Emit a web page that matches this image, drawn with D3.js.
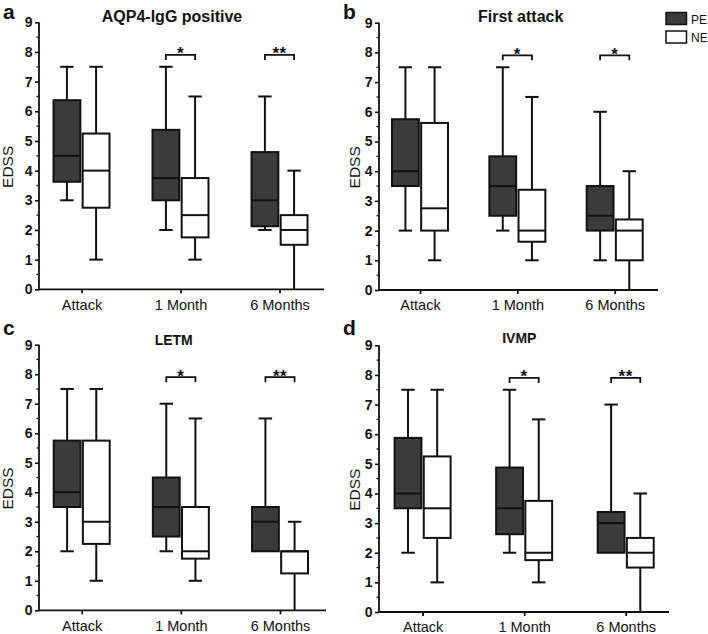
<!DOCTYPE html>
<html><head><meta charset="utf-8">
<script src="https://cdn.jsdelivr.net/npm/d3@7"></script>
<style>body{margin:0;background:#fff}svg{display:block}text{font-family:"Liberation Sans",Arial,sans-serif;fill:#111}</style>
</head><body><svg id="c" width="708" height="634"></svg>
<script>
// ---------------- data ----------------
const categories = ["Attack", "1 Month", "6 Months"];
const series = ["PE", "NE"];
const yTicks = [0, 1, 2, 3, 4, 5, 6, 7, 8, 9];
const panelLetters = ["a", "b", "c", "d"];
const panelTitles = ["AQP4-IgG positive", "First attack", "LETM", "IVMP"];
// each box: [min, q1, median, q3, max]
const aqp4PE  = [[3, 3.625, 4.5, 6.375, 7.5], [2, 3, 3.75, 5.375, 7.5], [2, 2.125, 3, 4.625, 6.5]];
const aqp4NE  = [[1, 2.75, 4, 5.25, 7.5], [1, 1.75, 2.5, 3.75, 6.5], [0, 1.5, 2, 2.5, 4]];
const firstPE = [[2, 3.5, 4, 5.75, 7.5], [2, 2.5, 3.5, 4.5, 7.5], [1, 2, 2.5, 3.5, 6]];
const firstNE = [[1, 2, 2.75, 5.625, 7.5], [1, 1.625, 2, 3.375, 6.5], [0, 1, 2, 2.375, 4]];
const letmPE  = [[2, 3.5, 4, 5.75, 7.5], [2, 2.5, 3.5, 4.5, 7], [2, 2, 3, 3.5, 6.5]];
const letmNE  = [[1, 2.25, 3, 5.75, 7.5], [1, 1.75, 2, 3.5, 6.5], [0, 1.25, 2, 2, 3]];
const ivmpPE  = [[2, 3.5, 4, 5.875, 7.5], [2, 2.625, 3.5, 4.875, 7.5], [2, 2, 3, 3.375, 7]];
const ivmpNE  = [[1, 2.5, 3.5, 5.25, 7.5], [1, 1.75, 2, 3.75, 6.5], [0, 1.5, 2, 2.5, 4]];
const aqp4Sig  = ["", "*", "**"];
const firstSig = ["", "*", "*"];
const letmSig  = ["", "*", "**"];
const ivmpSig  = ["", "*", "**"];

const panelData = [
  {PE: aqp4PE, NE: aqp4NE, sig: aqp4Sig},
  {PE: firstPE, NE: firstNE, sig: firstSig},
  {PE: letmPE, NE: letmNE, sig: letmSig},
  {PE: ivmpPE, NE: ivmpNE, sig: ivmpSig}
];

// ---------------- layout ----------------
const layout = [
  {x0: 39,  x1: 324, yTop: 22.3,  yBot: 289.3, c0: 81.5,  c2: 279.5, lx: 3,   ly: 18.5, tx: 172,   ty: 21.5, ts: 16, ylab: 12.5},
  {x0: 379, x1: 658, yTop: 22.7,  yBot: 290,   c0: 420,   c2: 614.7, lx: 343, ly: 18.5, tx: 520.7, ty: 21.5, ts: 16, ylab: 360},
  {x0: 39,  x1: 326, yTop: 344.7, yBot: 610.3, c0: 81.7,  c2: 280,   lx: 3,   ly: 335,  tx: 173.7, ty: 345,  ts: 14, ylab: 12.5},
  {x0: 379, x1: 669, yTop: 345.3, yBot: 612,   c0: 422.6, c2: 625.7, lx: 343, ly: 335,  tx: 519.3, ty: 343,  ts: 14, ylab: 360}
];
const fills = {PE: "#3b3b3b", NE: "#ffffff"};
const ink = "#111";

const svg = d3.select("#c");

layout.forEach((L, i) => {
  const D = panelData[i];
  const g = svg.append("g");
  const y = d3.scaleLinear().domain([0, 9]).range([L.yBot, L.yTop]);
  const x = d3.scalePoint().domain(categories).range([L.c0, L.c2]);
  const sub = d3.scaleBand().domain(series).range([-28, 28]).paddingInner(0.08);
  const bw = sub.bandwidth();

  // y axis
  const yAxis = d3.axisLeft(y).tickValues(yTicks).tickSize(4).tickPadding(2.5).tickFormat(d3.format("d"));
  const ya = g.append("g").attr("transform", `translate(${L.x0},0)`).call(yAxis);
  ya.select(".domain").remove();
  ya.selectAll(".tick line").attr("stroke", ink).attr("stroke-width", 1.6);
  ya.selectAll(".tick text").attr("font-size", 14).attr("font-weight", "bold")
    .attr("font-family", '"Liberation Sans",Arial,sans-serif').attr("fill", ink);
  // minor ticks
  const minor = d3.range(0.5, 9, 1);
  g.selectAll(".minor").data(minor).join("line")
    .attr("x1", L.x0 - 2.5).attr("x2", L.x0).attr("y1", d => y(d)).attr("y2", d => y(d))
    .attr("stroke", ink).attr("stroke-width", 1.3);
  g.append("line").attr("x1", L.x0).attr("x2", L.x0).attr("y1", y(0) + 1).attr("y2", y(9))
    .attr("stroke", ink).attr("stroke-width", 1.8);

  // x axis
  const xAxis = d3.axisBottom(x).tickSize(4).tickPadding(6);
  const xa = g.append("g").attr("transform", `translate(0,${L.yBot})`).call(xAxis);
  xa.select(".domain").remove();
  xa.selectAll(".tick line").attr("stroke", ink).attr("stroke-width", 1.8);
  xa.selectAll(".tick text").attr("font-size", 14.5).attr("font-family", '"Liberation Sans",Arial,sans-serif').attr("fill", ink);
  g.append("line").attr("x1", L.x0).attr("x2", L.x1).attr("y1", L.yBot).attr("y2", L.yBot)
    .attr("stroke", ink).attr("stroke-width", 1.8);

  // boxes
  series.forEach(s => {
    const vals = D[s];
    categories.forEach((c, k) => {
      const [mn, q1, md, q3, mx] = vals[k];
      const left = x(c) + sub(s);
      const cx = left + bw / 2;
      const bg = g.append("g");
      bg.append("line").attr("x1", cx).attr("x2", cx).attr("y1", y(q3)).attr("y2", y(mx)).attr("stroke", ink).attr("stroke-width", 2);
      bg.append("line").attr("x1", cx).attr("x2", cx).attr("y1", y(q1)).attr("y2", y(mn)).attr("stroke", ink).attr("stroke-width", 2);
      if (mx > q3) bg.append("line").attr("x1", cx - bw / 4).attr("x2", cx + bw / 4).attr("y1", y(mx)).attr("y2", y(mx)).attr("stroke", ink).attr("stroke-width", 2);
      if (mn < q1 && mn > 0) bg.append("line").attr("x1", cx - bw / 4).attr("x2", cx + bw / 4).attr("y1", y(mn)).attr("y2", y(mn)).attr("stroke", ink).attr("stroke-width", 2);
      bg.append("rect").attr("x", left).attr("width", bw).attr("y", y(q3)).attr("height", y(q1) - y(q3))
        .attr("fill", fills[s]).attr("stroke", ink).attr("stroke-width", 2);
      bg.append("line").attr("x1", left).attr("x2", left + bw).attr("y1", y(md)).attr("y2", y(md)).attr("stroke", ink).attr("stroke-width", 2);
    });
  });

  // significance brackets
  categories.forEach((c, k) => {
    const t = D.sig[k];
    if (!t) return;
    const xa1 = x(c) + sub("PE") + bw / 2;
    const xa2 = x(c) + sub("NE") + bw / 2;
    const yb = y(7.9);
    g.append("path").attr("d", `M${xa1},${yb + 5}V${yb}H${xa2}V${yb + 5}`)
      .attr("fill", "none").attr("stroke", ink).attr("stroke-width", 1.8);
    g.append("text").attr("x", (xa1 + xa2) / 2).attr("y", yb + 4.5).attr("text-anchor", "middle")
      .attr("font-size", 17).attr("font-weight", "bold").attr("letter-spacing", 0.5).text(t);
  });

  // title, letter, y label
  g.append("text").attr("x", L.tx).attr("y", L.ty).attr("text-anchor", "middle")
    .attr("font-size", L.ts).attr("font-weight", "bold").text(panelTitles[i]);
  g.append("text").attr("x", L.lx).attr("y", L.ly).attr("font-size", 21).attr("font-weight", "bold").text(panelLetters[i]);
  g.append("text").attr("transform", `translate(${L.ylab},${(L.yTop + L.yBot) / 2 + 11}) rotate(-90)`)
    .attr("text-anchor", "middle").attr("font-size", 15.5).text("EDSS");
});

// legend
const lg = svg.append("g").attr("transform", "translate(666,12.5)");
series.forEach((s, k) => {
  lg.append("rect").attr("x", 0).attr("y", k * 18.5).attr("width", 20.5).attr("height", 12)
    .attr("fill", fills[s]).attr("stroke", ink).attr("stroke-width", 1.5);
  lg.append("text").attr("x", 25).attr("y", k * 18.5 + 11).attr("font-size", 12).text(s);
});
</script>
</body></html>
